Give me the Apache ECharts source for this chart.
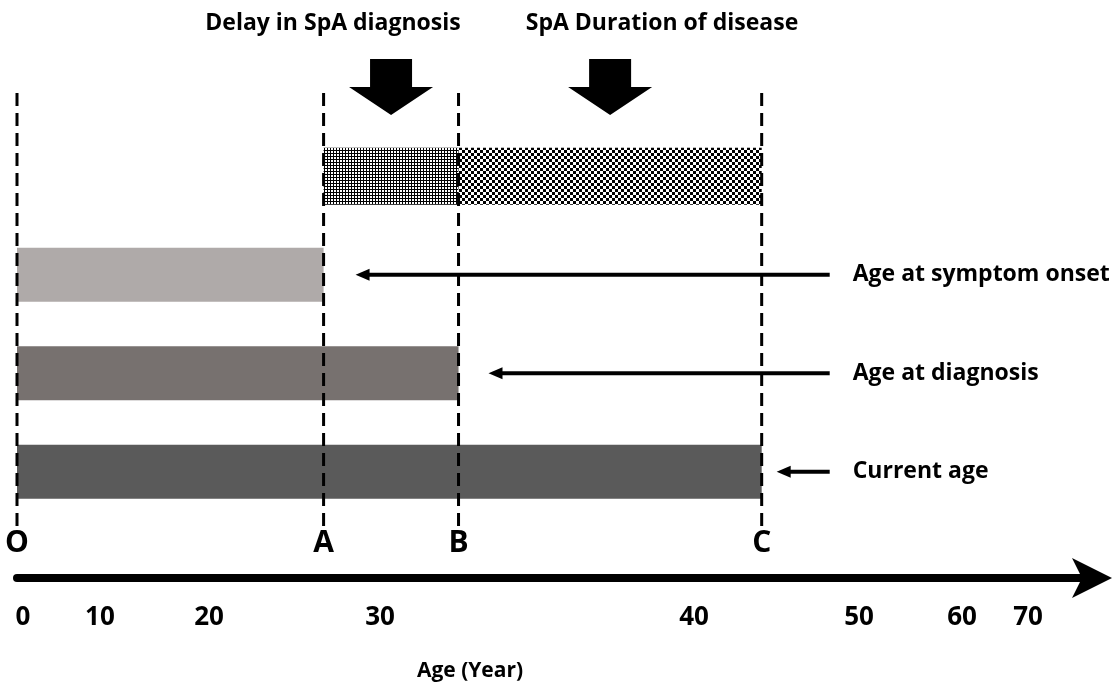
<!DOCTYPE html>
<html>
<head>
<meta charset="utf-8">
<script src="https://cdn.jsdelivr.net/npm/echarts@6/dist/echarts.min.js"></script>
<style>
  html, body { margin: 0; background: #fff; }
  #chart { width: 1118px; height: 687px; }
</style>
</head>
<body>
<div id="chart"></div>
<script>
  const tickAges = [0, 10, 20, 30, 40, 50, 60, 70];
  // where each tick sits along the drawn ruler (0 = start, 1 = arrow end); the ruler is not linear
  const tickSpots = [0, 0.0772, 0.1786, 0.3377, 0.6298, 0.7833, 0.8791, 0.9405];

  const rows = ['SpA course', 'Age at symptom onset', 'Age at diagnosis', 'Current age'];
  const onsetAge = 26.7;
  const diagnosisAge = 32.5;
  const currentAge = 44.1;

  const barAges = [onsetAge, diagnosisAge, currentAge];
  const barColors = ['#afaaa9', '#77716f', '#5a5a5a'];
  const guideAges = [0, onsetAge, diagnosisAge, currentAge];
  const guideLetters = ['O', 'A', 'B', 'C'];
  const segments = [[onsetAge, diagnosisAge], [diagnosisAge, currentAge]];
  const segmentTitles = ['Delay in SpA diagnosis', 'SpA Duration of disease'];
  const pointerGaps = [32, 30, 15];

  const FONT = '"Open Sans", "Noto Sans", sans-serif';

  // age -> position on the ruler, piecewise between the printed ticks
  function warp(age) {
    for (var i = 1; i < tickAges.length; i++) {
      if (age <= tickAges[i]) {
        var t = (age - tickAges[i - 1]) / (tickAges[i] - tickAges[i - 1]);
        return tickSpots[i - 1] + t * (tickSpots[i] - tickSpots[i - 1]);
      }
    }
    return tickSpots[tickSpots.length - 1];
  }

  function makePattern(size, isInk) {
    var c = document.createElement('canvas');
    c.width = c.height = size;
    var ctx = c.getContext('2d');
    ctx.fillStyle = '#fff';
    ctx.fillRect(0, 0, size, size);
    ctx.fillStyle = '#000';
    for (var x = 0; x < size; x++) {
      for (var y = 0; y < size; y++) {
        if (isInk(x, y)) ctx.fillRect(x, y, 1, 1);
      }
    }
    return { image: c, repeat: 'repeat' };
  }

  const patterns = [
    makePattern(3, (x, y) => x === 0 || y === 0),
    makePattern(6, (x, y) => (Math.floor(x / 3) + Math.floor(y / 3)) % 2 === 0)
  ];

  var myChart = echarts.init(document.getElementById('chart'), null, { renderer: 'canvas' });

  var option = {
    animation: false,
    backgroundColor: '#fff',
    graphic: [
      { type: 'text', x: 333, y: 23, style: { text: segmentTitles[0], align: 'center', verticalAlign: 'middle', font: 'bold 23px ' + FONT, fill: '#000' } },
      { type: 'text', x: 662, y: 23, style: { text: segmentTitles[1], align: 'center', verticalAlign: 'middle', font: 'bold 23px ' + FONT, fill: '#000' } },
      { type: 'text', x: 470, y: 671, style: { text: 'Age (Year)', align: 'center', verticalAlign: 'middle', font: 'bold 21px ' + FONT, fill: '#000' } }
    ],
    grid: { left: 17, right: 26, top: 127, bottom: 166 },
    xAxis: {
      type: 'value',
      min: 0,
      max: 1,
      offset: 57,
      splitLine: { show: false },
      axisTick: { show: false },
      axisLine: {
        show: true,
        onZero: false,
        symbol: ['none', 'arrow'],
        symbolSize: [30, 40],
        symbolOffset: [0, 20],
        lineStyle: { color: '#000', width: 8 }
      },
      axisLabel: {
        customValues: tickSpots,
        margin: 27,
        color: '#000',
        fontFamily: FONT,
        fontWeight: 'bold',
        fontSize: 26,
        formatter: function (v) {
          var best = 0;
          tickSpots.forEach((s, i) => { if (Math.abs(s - v) < Math.abs(tickSpots[best] - v)) best = i; });
          return best === 0 ? '{first|0}' : String(tickAges[best]);
        },
        rich: {
          first: { padding: [0, 0, 0, 12], fontFamily: FONT, fontWeight: 'bold', fontSize: 26, color: '#000' }
        }
      }
    },
    yAxis: {
      type: 'category',
      data: rows,
      inverse: true,
      show: false
    },
    series: [
      {
        type: 'bar',
        barWidth: 54,
        z: 2,
        data: ['-'].concat(barAges.map((a, i) => ({ value: warp(a), itemStyle: { color: barColors[i] } })))
      },
      {
        type: 'custom',
        z: 2,
        data: segments.map((s, i) => [warp(s[0]), warp(s[1]), 0, i]),
        encode: { x: [0, 1], y: 2 },
        renderItem: function (params, api) {
          var p0 = api.coord([api.value(0), 0]);
          var p1 = api.coord([api.value(1), 0]);
          var h = 57;
          var top = params.coordSys.y;
          var mid = (p0[0] + p1[0]) / 2;
          return {
            type: 'group',
            children: [
              { type: 'rect', shape: { x: p0[0], y: p0[1] - h / 2, width: p1[0] - p0[0], height: h }, style: { fill: patterns[api.value(3)] } },
              {
                type: 'polygon',
                shape: {
                  points: [
                    [mid - 21, top - 68], [mid + 21, top - 68], [mid + 21, top - 40],
                    [mid + 42, top - 40], [mid, top - 12], [mid - 42, top - 40], [mid - 21, top - 40]
                  ]
                },
                style: { fill: '#000' }
              }
            ]
          };
        }
      },
      {
        type: 'custom',
        z: 5,
        data: guideAges.map((a, i) => [warp(a), i]),
        encode: { x: 0, y: 1 },
        renderItem: function (params, api) {
          var x = api.coord([api.value(0), 0])[0];
          var cs = params.coordSys;
          return {
            type: 'group',
            children: [
              { type: 'line', shape: { x1: x, y1: cs.y - 34, x2: x, y2: cs.y + cs.height + 9 }, style: { stroke: '#000', lineWidth: 3, lineDash: [13, 7] } },
              { type: 'text', style: { text: guideLetters[params.dataIndex], x: x, y: cs.y + cs.height + 22, align: 'center', verticalAlign: 'middle', font: 'bold 30px ' + FONT, fill: '#000' } }
            ]
          };
        }
      },
      {
        type: 'custom',
        z: 5,
        data: barAges.map((a, i) => [warp(a), i + 1]),
        encode: { x: 0, y: 1 },
        renderItem: function (params, api) {
          var i = params.dataIndex;
          var p = api.coord([api.value(0), api.value(1)]);
          var cs = params.coordSys;
          var tail = cs.x + cs.width * 0.756;
          var tip = p[0] + pointerGaps[i];
          var y = p[1];
          return {
            type: 'group',
            children: [
              { type: 'line', shape: { x1: tip + 10, y1: y, x2: tail, y2: y }, style: { stroke: '#000', lineWidth: 4 } },
              { type: 'polygon', shape: { points: [[tip, y], [tip + 14, y - 6], [tip + 14, y + 6]] }, style: { fill: '#000' } },
              { type: 'text', style: { text: rows[i + 1], x: tail + 23, y: y, align: 'left', verticalAlign: 'middle', font: 'bold 23px ' + FONT, fill: '#000' } }
            ]
          };
        }
      }
    ]
  };

  myChart.setOption(option);
  window.addEventListener('resize', myChart.resize);
</script>
</body>
</html>
